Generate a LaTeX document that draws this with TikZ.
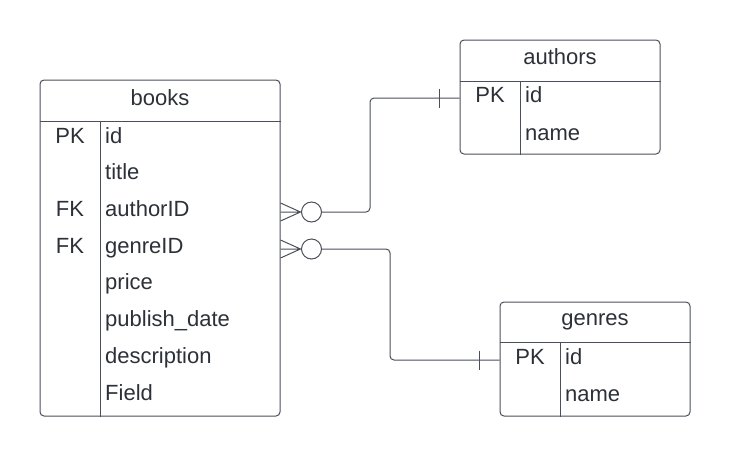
\documentclass[tikz,border=0pt]{standalone}
\usepackage{fontspec}
\setmainfont{Liberation Sans}
\definecolor{edge}{RGB}{74,79,89}
\definecolor{ink}{RGB}{44,48,56}

\tikzset{
    tbl/.style = {draw=edge, line width=1pt, rounded corners=4pt, inner sep=0pt},
    line/.style = {draw=edge, line width=1pt},
    key/.style = {anchor=base, inner sep=0pt, text=ink},
    field/.style = {anchor=base west, inner sep=0pt, text=ink},
    ring/.style = {circle, draw=edge, line width=1pt, fill=white, minimum size=20pt, inner sep=0pt},
}

\begin{document}
\begin{tikzpicture}[x=1pt, y=-1pt, font=\fontsize{22}{26}\selectfont]
    \useasboundingbox (0,0) rectangle (730,456);

    % tables
    \node[tbl, minimum width=240pt, minimum height=336pt] (books) at (160,248) {};
    \node[tbl, minimum width=200pt, minimum height=114pt] (authors) at (560,97) {};
    \node[tbl, minimum width=190pt, minimum height=114pt] (genres) at (595,359) {};

    \draw[line] (books.west |- 0,121) -- (books.east |- 0,121);
    \draw[line] (100,121) -- (100,0 |- books.south);
    \draw[line] (authors.west |- 0,81) -- (authors.east |- 0,81);
    \draw[line] (520,81) -- (520,0 |- authors.south);
    \draw[line] (genres.west |- 0,342) -- (genres.east |- 0,342);
    \draw[line] (560,342) -- (560,0 |- genres.south);

    % books
    \node[key] (bookstitle) at (160,105) {books};
    \node[key] (bk0) at (70,143.3) {PK};
    \node[key] (bk2) at (70,216.7) {FK};
    \node[key] (bk3) at (70,253.3) {FK};
    \foreach \f [count=\i from 0] in {id,title,authorID,genreID,price,publish\_date,description,Field}
        \node[field] (bf\i) at (105,{143.3+36.67*\i}) {\f};

    % authors
    \node[key] (authorstitle) at (560,64.3) {authors};
    \node[key] (ak0) at (490,102.7) {PK};
    \node[field] (af0) at (525,102.7) {id};
    \node[field] (af1) at (525,140) {name};

    % genres
    \node[key] (genrestitle) at (595,325.7) {genres};
    \node[key] (gk0) at (530,364) {PK};
    \node[field] (gf0) at (565,364) {id};
    \node[field] (gf1) at (565,401) {name};

    % books -> authors
    \coordinate (ba) at (books.east |- 0,212);
    \coordinate (aid) at (authors.west |- 0,98);
    \draw[line] ([yshift=9pt]ba) -- ([xshift=20pt]ba) -- ([yshift=-9pt]ba) (ba) -- ([xshift=20pt]ba);
    \node[ring] (ra) at ([xshift=31pt]ba) {};
    \draw[line, rounded corners=4pt] (ra.east) -- (370,212) |- (aid);
    \draw[line] ([xshift=-20pt,yshift=9.5pt]aid) -- ([xshift=-20pt,yshift=-9.5pt]aid);

    % books -> genres
    \coordinate (bg) at (books.east |- 0,249);
    \coordinate (gid) at (genres.west |- 0,360);
    \draw[line] ([yshift=9pt]bg) -- ([xshift=20pt]bg) -- ([yshift=-9pt]bg) (bg) -- ([xshift=20pt]bg);
    \node[ring] (rg) at ([xshift=31pt]bg) {};
    \draw[line, rounded corners=4pt] (rg.east) -- (390,249) |- (gid);
    \draw[line] ([xshift=-20pt,yshift=9.5pt]gid) -- ([xshift=-20pt,yshift=-9.5pt]gid);
\end{tikzpicture}
\end{document}
